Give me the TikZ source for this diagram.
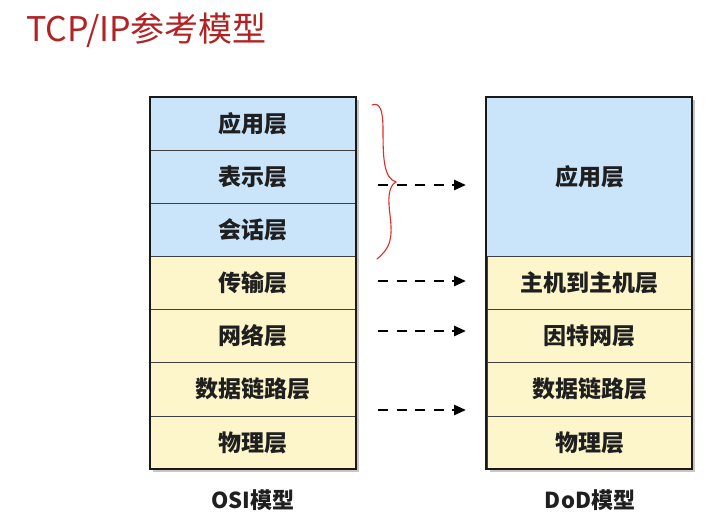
\documentclass[tikz,border=0pt]{standalone}
\usepackage{fontspec}
\setmainfont{Noto Sans CJK SC}
\usetikzlibrary{arrows.meta}
\definecolor{bluefill}{RGB}{202,229,250}
\definecolor{yellowfill}{RGB}{252,246,202}
\definecolor{titlered}{RGB}{178,34,34}
\definecolor{bracered}{RGB}{225,45,40}
\begin{document}
\begin{tikzpicture}[x=1pt,y=-1pt,
  layer/.style={draw=black!75, line width=0.7pt, minimum width=206pt, minimum height=53.14pt, inner sep=0pt, font=\bfseries\fontsize{23}{23}\selectfont, text=black!88},
  bluelayer/.style={layer, fill=bluefill},
  yellowlayer/.style={layer, fill=yellowfill},
  frame/.style={draw=black!90, line width=2pt},
  shadowbox/.style={fill=black!22},
  maparrow/.style={line width=2.6pt, dash pattern=on 10pt off 8.5pt, -{Triangle[length=12pt,width=10pt]}},
  brace/.style={draw=bracered, line width=1.1pt, line cap=round},
  caption/.style={font=\bfseries\fontsize{22}{22}\selectfont, text=black!88}]
\useasboundingbox (0,0) rectangle (708,524);
\fill[white] (0,0) rectangle (708,524);
% title
\node[anchor=west, text=titlered, font=\fontsize{34}{34}\selectfont, inner sep=0pt] (title) at (26,30) {TCP/IP参考模型};
% shadows
\fill[shadowbox] (153,100) rectangle (359,472);
\fill[shadowbox] (490,100) rectangle (695,472);
% OSI stack
\node[bluelayer] (o1) at (253,123.57) {应用层};
\node[bluelayer] (o2) at (253,176.71) {表示层};
\node[bluelayer] (o3) at (253,229.86) {会话层};
\node[yellowlayer] (o4) at (253,283) {传输层};
\node[yellowlayer] (o5) at (253,336.14) {网络层};
\node[yellowlayer] (o6) at (253,389.29) {数据链路层};
\node[yellowlayer] (o7) at (253,442.43) {物理层};
\draw[frame] (o1.north west) rectangle (o7.south east);
% DoD stack
\node[bluelayer, minimum height=159.43pt] (d1) at (589.5,176.71) {应用层};
\node[yellowlayer, minimum width=205pt] (d2) at (589.5,283) {主机到主机层};
\node[yellowlayer, minimum width=205pt] (d3) at (589.5,336.14) {因特网层};
\node[yellowlayer, minimum width=205pt] (d4) at (589.5,389.29) {数据链路层};
\node[yellowlayer, minimum width=205pt] (d5) at (589.5,442.43) {物理层};
\draw[frame] (d1.north west) rectangle (d5.south east);
% arrows
\coordinate (a1s) at (378,185); \coordinate (a1e) at (466,185);
\coordinate (a2s) at (378,281); \coordinate (a2e) at (466,281);
\coordinate (a3s) at (378,331); \coordinate (a3e) at (466,331);
\coordinate (a4s) at (378,410); \coordinate (a4e) at (466,410);
\draw[maparrow] (a1s) -- (a1e);
\draw[maparrow] (a2s) -- (a2e);
\draw[maparrow] (a3s) -- (a3e);
\draw[maparrow] (a4s) -- (a4e);
% hand-drawn brace
\draw[brace] (372,105) .. controls (380,102) and (383,110) .. (383,130)
  .. controls (383,160) and (384,178) .. (396,182)
  .. controls (388,186) and (388,200) .. (390,215)
  .. controls (393,240) and (390,248) .. (377,259);
% captions
\node[caption] (osi) at (253,500) {OSI模型};
\node[caption] (dod) at (590,500) {DoD模型};
\end{tikzpicture}
\end{document}
